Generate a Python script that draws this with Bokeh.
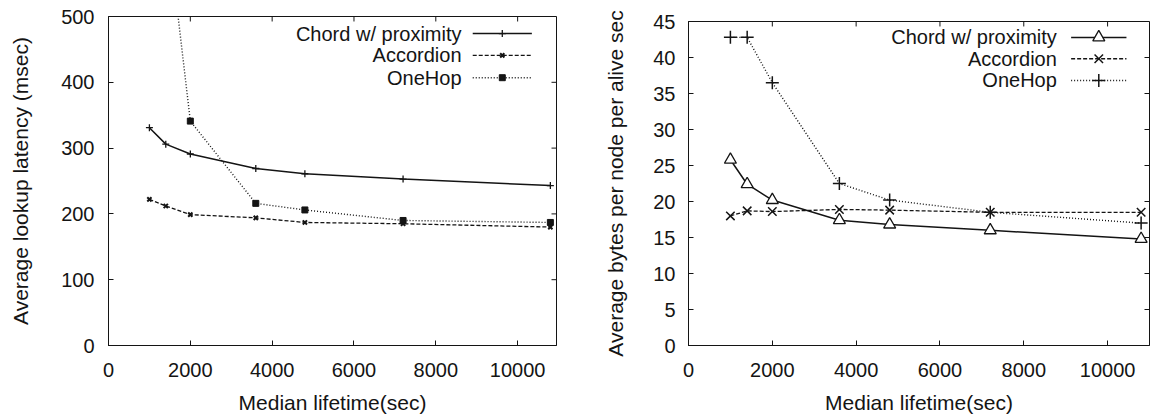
from bokeh.plotting import figure
from bokeh.layouts import row
from bokeh.models import Range1d, FixedTicker
from bokeh.core.properties import value
from bokeh.embed import file_html
from bokeh.resources import INLINE

# ---------------- data ----------------
lifetimes = [1000, 1400, 2000, 3600, 4800, 7200, 10800]

lat_chord = [331, 306, 291, 269, 261, 253, 243]
lat_accordion = [222, 212, 199, 194, 187, 185, 180]
lat_onehop = [900, 660, 341, 216, 206, 190, 187]

bw_chord = [25.8, 22.4, 20.2, 17.4, 16.8, 16.0, 14.8]
bw_accordion = [18.0, 18.7, 18.6, 18.9, 18.8, 18.5, 18.5]
bw_onehop = [42.8, 42.8, 36.5, 22.5, 20.2, 18.5, 17.0]

series_names = ["Chord w/ proximity", "Accordion", "OneHop"]
x_ticks = [0, 2000, 4000, 6000, 8000, 10000]
lat_ticks = [0, 100, 200, 300, 400, 500]
bw_ticks = [0, 5, 10, 15, 20, 25, 30, 35, 40, 45]

# ---------------- style ----------------
FONT = "Liberation Sans"
INK = "#141414"
DASHES = ["solid", "4 2", "1 2"]
WIDTHS = [1.5, 1.3, 1.4]
TICK = 5


def style_axis(ax, ticks, label, standoff, label_standoff):
    ax.ticker = FixedTicker(ticks=ticks)
    ax.major_tick_in = TICK
    ax.major_tick_out = 0
    ax.minor_tick_line_color = None
    ax.axis_line_color = INK
    ax.major_tick_line_color = INK
    ax.major_label_text_font = FONT
    ax.major_label_text_font_size = "20px"
    ax.major_label_text_color = INK
    ax.major_label_standoff = standoff
    ax.axis_label = label
    ax.axis_label_text_font = FONT
    ax.axis_label_text_font_size = "21px"
    ax.axis_label_text_font_style = "normal"
    ax.axis_label_text_color = INK
    ax.axis_label_standoff = label_standoff


def mirror_ticks(p, xt, yt, fw, fh):
    # inward tick marks on the top and right edges of the frame (gnuplot mirror)
    n, m = len(xt), len(yt)
    p.segment(x0=xt, x1=xt, y0=[1 - TICK / fh] * n, y1=[1] * n, y_range_name="lg",
              line_color=INK, line_width=1)
    p.segment(x0=[1 - TICK / fw] * m, x1=[1] * m, y0=yt, y1=yt, x_range_name="lg",
              line_color=INK, line_width=1)


def make_fig(width, height, xmax, ymax, bl, br, bt, bb):
    p = figure(width=width, height=height, output_backend="svg", toolbar_location=None,
               x_range=Range1d(0, xmax), y_range=Range1d(0, ymax),
               min_border_left=bl, min_border_right=br, min_border_top=bt, min_border_bottom=bb,
               frame_align=False)
    p.grid.visible = False
    p.outline_line_color = INK
    p.outline_line_width = 1
    p.background_fill_color = "white"
    p.border_fill_color = "white"
    p.extra_x_ranges = {"lg": Range1d(0, 1)}
    p.extra_y_ranges = {"lg": Range1d(0, 1)}
    return p


def legend_entry(p, fx_text, fx0, fx1, fy, label, dash, lw, mk):
    p.text(x=[fx_text], y=[fy], text=[label], x_range_name="lg", y_range_name="lg",
           text_align="right", text_baseline="middle", text_font=value(FONT),
           text_font_size="20px", text_color=INK)
    p.line(x=[fx0, fx1], y=[fy, fy], x_range_name="lg", y_range_name="lg",
           line_color=INK, line_width=lw, line_dash=dash)
    p.scatter(x=[(fx0 + fx1) / 2], y=[fy], x_range_name="lg", y_range_name="lg", **mk)


# ---------------- left: latency ----------------
p1 = make_fig(583, 416, 10950, 500, 108, 27, 16, 70)
style_axis(p1.xaxis[0], x_ticks, "Median lifetime(sec)", 17, 11)
style_axis(p1.yaxis[0], lat_ticks, "Average lookup latency (msec)", 14, 26)
mirror_ticks(p1, x_ticks, lat_ticks, 448, 330)

left_markers = [
    dict(marker="cross", size=7, line_color=INK, line_width=1.3),
    dict(marker="x", size=6, line_color=INK, line_width=2),
    dict(marker="square", size=6, line_color=INK, fill_color=INK, line_width=1),
]
for ys, name, dash, lw, mk in zip([lat_chord, lat_accordion, lat_onehop], series_names,
                                  DASHES, WIDTHS, left_markers):
    p1.line(lifetimes, ys, line_color=INK, line_width=lw, line_dash=dash)
    p1.scatter(lifetimes, ys, **mk)

for fy, name, dash, lw, mk in zip([0.948, 0.882, 0.814], series_names, DASHES, WIDTHS, left_markers):
    legend_entry(p1, 0.788, 0.813, 0.945, fy, name, dash, lw, mk)

# ---------------- right: bandwidth ----------------
p2 = make_fig(575, 416, 11000, 45, 105, 9, 21, 69)
style_axis(p2.xaxis[0], x_ticks, "Median lifetime(sec)", 17, 11)
style_axis(p2.yaxis[0], bw_ticks, "Average bytes per node per alive sec", 13, 23)
mirror_ticks(p2, x_ticks, bw_ticks, 461, 326)

right_markers = [
    dict(marker="triangle", size=12, line_color=INK, fill_color="white", line_width=1.3),
    dict(marker="x", size=12, line_color=INK, line_width=1.5),
    dict(marker="cross", size=13, line_color=INK, line_width=1.5),
]
for ys, name, dash, lw, mk in zip([bw_chord, bw_accordion, bw_onehop], series_names,
                                  DASHES, WIDTHS, right_markers):
    p2.line(lifetimes, ys, line_color=INK, line_width=lw, line_dash=dash)
    p2.scatter(lifetimes, ys, **mk)

for fy, name, dash, lw, mk in zip([0.951, 0.885, 0.818], series_names, DASHES, WIDTHS, right_markers):
    legend_entry(p2, 0.799, 0.830, 0.950, fy, name, dash, lw, mk)

layout = row(p1, p2)
open("out.html", "w").write(file_html(layout, INLINE))
